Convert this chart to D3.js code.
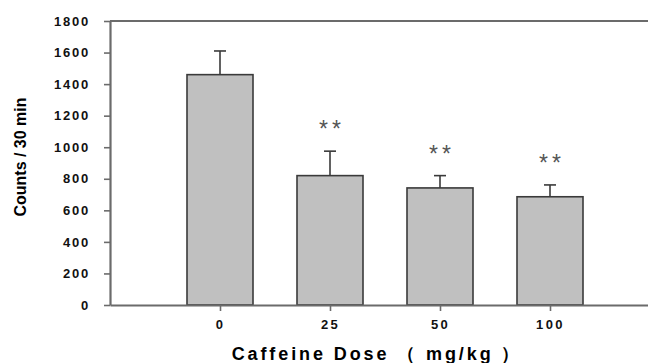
<!DOCTYPE html>
<html>
<head>
<meta charset="utf-8">
<script src="https://cdn.jsdelivr.net/npm/d3@7"></script>
<style>
  html, body { margin: 0; padding: 0; background: #fff; }
  svg { display: block; }
</style>
</head>
<body>
<svg id="chart" width="648" height="363"></svg>
<script>
// Locomotor counts by caffeine dose (mean + SEM)
const doses = ["0", "25", "50", "100"];
const counts = [1460, 820, 742, 686];
const sem = [150, 155, 78, 75];
const marks = ["", "**", "**", "**"];
const yTicks = [0, 200, 400, 600, 800, 1000, 1200, 1400, 1600, 1800];

const svg = d3.select("#chart");
const plotLeft = 110, plotRight = 660, plotTop = 21, plotBottom = 305;

// Dose slots sit at positions 1..4 on a 0..5 axis
const x = d3.scaleLinear().domain([0, 5]).range([plotLeft, plotRight]);
const y = d3.scaleLinear().domain([0, 1800]).range([plotBottom, plotTop]);
const barW = 66;

const axisColor = "#6b6b6b";
const font = "Liberation Sans, Arial, sans-serif";

// frame top line
svg.append("line")
  .attr("x1", plotLeft).attr("x2", 648)
  .attr("y1", y(1800)).attr("y2", y(1800))
  .attr("stroke", axisColor).attr("stroke-width", 2);

// bars
const g = svg.append("g");
g.selectAll("rect.bar").data(counts).join("rect")
  .attr("class", "bar")
  .attr("x", (d, i) => x(i + 1) - barW / 2)
  .attr("y", d => y(d))
  .attr("width", barW)
  .attr("height", d => y(0) - y(d))
  .attr("fill", "#c0c0c0")
  .attr("stroke", "#3a3a3a")
  .attr("stroke-width", 1.6);

// error bars (upper only)
g.selectAll("line.err").data(counts).join("line")
  .attr("class", "err")
  .attr("x1", (d, i) => x(i + 1)).attr("x2", (d, i) => x(i + 1))
  .attr("y1", d => y(d)).attr("y2", (d, i) => y(d + sem[i]))
  .attr("stroke", "#3a3a3a").attr("stroke-width", 1.6);
g.selectAll("line.cap").data(counts).join("line")
  .attr("class", "cap")
  .attr("x1", (d, i) => x(i + 1) - 6).attr("x2", (d, i) => x(i + 1) + 6)
  .attr("y1", (d, i) => y(d + sem[i])).attr("y2", (d, i) => y(d + sem[i]))
  .attr("stroke", "#3a3a3a").attr("stroke-width", 1.6);

// significance marks
g.selectAll("text.sig").data(counts).join("text")
  .attr("class", "sig")
  .attr("x", (d, i) => x(i + 1) + 2)
  .attr("y", (d, i) => y(d + sem[i]) - 14)
  .attr("text-anchor", "middle")
  .attr("font-family", font)
  .attr("font-size", 23)
  .attr("letter-spacing", "4px")
  .attr("fill", "#555")
  .text((d, i) => marks[i]);

// y axis
const yAxis = svg.append("g")
  .attr("transform", `translate(${plotLeft},0)`)
  .call(d3.axisLeft(y).tickValues(yTicks).tickFormat(d3.format("d"))
    .tickSize(6).tickPadding(14).tickSizeOuter(0));
yAxis.select(".domain").attr("stroke", axisColor).attr("stroke-width", 2.2);
yAxis.selectAll(".tick line").attr("stroke", axisColor).attr("stroke-width", 1.6);
yAxis.selectAll(".tick text")
  .attr("font-family", font)
  .attr("font-size", 13).attr("font-weight", "bold")
  .attr("letter-spacing", "1.8px")
  .attr("fill", "#111");

// x axis
const xAxis = svg.append("g")
  .attr("transform", `translate(0,${plotBottom})`)
  .call(d3.axisBottom(x).tickValues([1, 2, 3, 4])
    .tickFormat((d) => doses[d - 1]).tickSize(6).tickPadding(9).tickSizeOuter(0));
xAxis.select(".domain").attr("stroke", axisColor).attr("stroke-width", 2.2);
xAxis.selectAll(".tick line").attr("stroke", axisColor).attr("stroke-width", 1.6);
xAxis.selectAll(".tick text")
  .attr("font-family", font)
  .attr("font-size", 13).attr("font-weight", "bold")
  .attr("letter-spacing", "2.4px")
  .attr("fill", "#111");

// axis titles
svg.append("text")
  .attr("transform", "translate(26,157) rotate(-90)")
  .attr("text-anchor", "middle")
  .attr("font-family", font)
  .attr("font-size", 16).attr("font-weight", "bold")
  .attr("fill", "#000")
  .text("Counts / 30 min");

svg.append("text")
  .attr("x", 377).attr("y", 360)
  .attr("text-anchor", "middle")
  .attr("font-family", font)
  .attr("font-size", 18).attr("font-weight", "bold")
  .attr("letter-spacing", "2.9px")
  .attr("fill", "#000")
  .text("Caffeine Dose （ mg/kg ）");
</script>
</body>
</html>
